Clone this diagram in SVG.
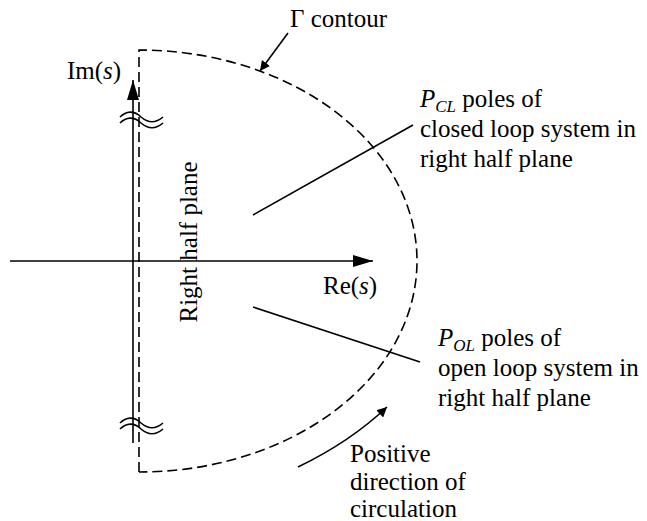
<svg xmlns="http://www.w3.org/2000/svg" width="647" height="521" viewBox="0 0 647 521">
<style>
text{font-family:"Liberation Serif","Times New Roman",serif;font-size:25px;fill:#000}
.it{font-style:italic}
.sub{font-style:italic;font-size:17px}
.ln{stroke:#000;stroke-width:1.6;fill:none}
.dash{stroke:#000;stroke-width:1.6;fill:none;stroke-dasharray:10,5}
.wave{stroke:#000;stroke-width:1.6;fill:none}
</style>
<defs>
<marker id="ah" viewBox="0 0 10 10" refX="10" refY="5" markerWidth="10" markerHeight="10" markerUnits="userSpaceOnUse" orient="auto"><path d="M0,0 L10,5 L0,10 z" fill="#000"/></marker>
<marker id="big" viewBox="0 0 20 12" refX="20" refY="6" markerWidth="20" markerHeight="12" markerUnits="userSpaceOnUse" orient="auto"><path d="M0,0 L20,6 L0,12 z" fill="#000"/></marker>
</defs>
<g id="connectors">
<line class="ln" x1="10" y1="261" x2="373" y2="261" marker-end="url(#big)"/>
<line class="ln" x1="133" y1="443" x2="133" y2="80" marker-end="url(#big)"/>
<path id="gamma-contour" class="dash" d="M139,472 L139,50 A278,211 0 0 1 139,472"/>
<line class="ln" x1="288" y1="33" x2="260" y2="71" marker-end="url(#ah)"/>
<line class="ln" x1="253" y1="215" x2="413" y2="125"/>
<line class="ln" x1="253" y1="307" x2="420" y2="362"/>
<path class="ln" d="M298,467 Q350,442 387,407" marker-end="url(#ah)"/>
</g>
<g id="breaks">
<path class="wave" d="M120,117 C126,111 134,110 141,117 C148,123 156,123 163,117"/>
<path class="wave" d="M120,123 C126,117 134,116 141,123 C148,129 156,129 163,123"/>
<path class="wave" d="M120,423 C126,417 134,416 141,423 C148,429 156,429 163,423"/>
<path class="wave" d="M120,429 C126,423 134,422 141,429 C148,435 156,435 163,429"/>
</g>
<g id="im-label"><text x="67" y="79">Im(<tspan class="it">s</tspan>)</text></g>
<g id="re-label"><text x="323" y="294">Re(<tspan class="it">s</tspan>)</text></g>
<g id="gamma-label"><text x="290" y="27">Γ contour</text></g>
<g id="rhp-label"><text transform="translate(197,242) rotate(-90)" text-anchor="middle">Right half plane</text></g>
<g id="pcl-label">
<text x="420" y="107"><tspan class="it">P</tspan><tspan class="sub" dy="5">CL</tspan><tspan dy="-5"> poles of</tspan></text>
<text x="420" y="137">closed loop system in</text>
<text x="420" y="167">right half plane</text>
</g>
<g id="pol-label">
<text x="438" y="346"><tspan class="it">P</tspan><tspan class="sub" dy="5">OL</tspan><tspan dy="-5"> poles of</tspan></text>
<text x="438" y="376">open loop system in</text>
<text x="438" y="406">right half plane</text>
</g>
<g id="circ-label">
<text x="350" y="462">Positive</text>
<text x="350" y="490">direction of</text>
<text x="350" y="517">circulation</text>
</g>
</svg>
